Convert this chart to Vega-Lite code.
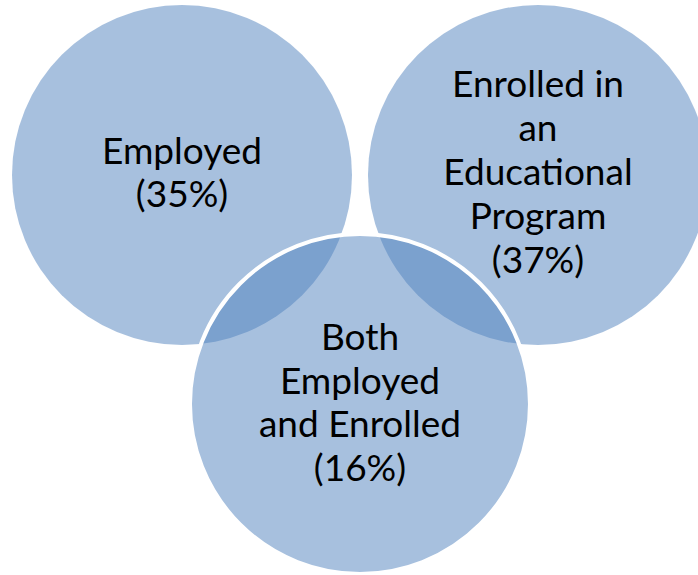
{
  "$schema": "https://vega.github.io/schema/vega-lite/v6.json",
  "width": 698,
  "height": 575,
  "autosize": "none",
  "padding": 0,
  "background": "white",
  "config": {"view": {"stroke": null}},
  "data": {
    "values": [
      {"set": "Employed", "label": "Employed\n(35%)", "pct": 35, "cx": 0, "cy": 0},
      {"set": "Enrolled", "label": "Enrolled in\nan\nEducational\nProgram\n(37%)", "pct": 37, "cx": 2.094, "cy": 0},
      {"set": "Both", "label": "Both\nEmployed\nand Enrolled\n(16%)", "pct": 16, "cx": 1.047, "cy": -1.347}
    ]
  },
  "encoding": {
    "x": {"field": "cx", "type": "quantitative", "scale": {"domain": [-1.0706, 3.0353], "nice": false, "zero": false}, "axis": null},
    "y": {"field": "cy", "type": "quantitative", "scale": {"domain": [-2.3529, 1.0294], "nice": false, "zero": false}, "axis": null}
  },
  "layer": [
    {
      "transform": [{"filter": "datum.set !== 'Both'"}],
      "mark": {"type": "point", "shape": "circle", "filled": true, "fill": "#4F81BD", "fillOpacity": 0.5, "strokeWidth": 0, "size": 115600}
    },
    {
      "transform": [{"filter": "datum.set === 'Both'"}],
      "mark": {"type": "point", "shape": "circle", "filled": true, "fill": "#4F81BD", "fillOpacity": 0.5, "stroke": "white", "strokeOpacity": 1, "strokeWidth": 4, "size": 115600}
    },
    {
      "transform": [{"filter": "datum.set === 'Employed'"}],
      "mark": {"type": "text", "font": "Lato", "fontSize": 37, "lineBreak": "\n", "lineHeight": 43, "align": "center", "baseline": "middle", "color": "black", "dy": -22},
      "encoding": {"text": {"field": "label"}}
    },
    {
      "transform": [{"filter": "datum.set === 'Enrolled'"}],
      "mark": {"type": "text", "font": "Lato", "fontSize": 37, "lineBreak": "\n", "lineHeight": 44, "align": "center", "baseline": "middle", "color": "black", "dy": -89},
      "encoding": {"text": {"field": "label"}}
    },
    {
      "transform": [{"filter": "datum.set === 'Both'"}],
      "mark": {"type": "text", "font": "Lato", "fontSize": 37, "lineBreak": "\n", "lineHeight": 43.7, "align": "center", "baseline": "middle", "color": "black", "dy": -65},
      "encoding": {"text": {"field": "label"}}
    }
  ]
}
